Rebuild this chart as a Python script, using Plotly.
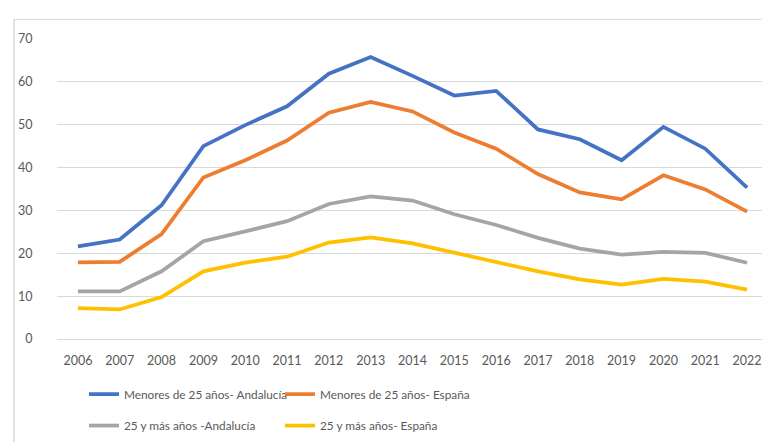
import plotly.graph_objects as go

years = [str(y) for y in range(2006, 2023)]
menores_andalucia = [21.6, 23.2, 31.2, 45.0, 49.9, 54.3, 61.9, 65.8, 61.4, 56.8, 57.9, 48.9, 46.6, 41.7, 49.5, 44.4, 35.3]
menores_espana = [17.9, 18.0, 24.5, 37.7, 41.7, 46.3, 52.8, 55.3, 53.1, 48.2, 44.4, 38.5, 34.2, 32.6, 38.2, 34.9, 29.7]
mayores_andalucia = [11.1, 11.1, 15.8, 22.8, 25.1, 27.5, 31.5, 33.3, 32.3, 29.1, 26.6, 23.6, 21.1, 19.7, 20.3, 20.1, 17.8]
mayores_espana = [7.2, 6.9, 9.8, 15.8, 17.8, 19.2, 22.5, 23.7, 22.3, 20.1, 17.8, 15.8, 13.9, 12.7, 14.0, 13.4, 11.5]

names = ["Menores de 25 años- Andalucía", "Menores de 25 años- España",
         "25 y más años -Andalucía", "25 y más años- España"]
colors = ["#4472C4", "#ED7D31", "#A5A5A5", "#FFC000"]
series = [menores_andalucia, menores_espana, mayores_andalucia, mayores_espana]
legends = ["legend", "legend", "legend2", "legend2"]

FONT = "Lato, sans-serif"
fig = go.Figure()
for n, c, s, lg in zip(names, colors, series, legends):
    fig.add_trace(go.Scatter(x=years, y=s, name=n, mode="lines",
                             line=dict(color=c, width=3.75), legend=lg))

W, H = 770, 442
L, R, T, B = 49, 10, 31, 106
pw, ph = W - L - R, H - T - B

def px(x):
    return (x - L) / pw

def py(y):
    return (H - B - y) / ph

leg_common = dict(orientation="h", xanchor="left", yanchor="middle",
                  font=dict(family=FONT, size=11.8, color="#595959"),
                  bgcolor="rgba(0,0,0,0)", entrywidth=151, entrywidthmode="pixels",
                  itemwidth=30, tracegroupgap=0)

fig.update_layout(
    width=W, height=H,
    margin=dict(l=L, r=R, t=T, b=B),
    paper_bgcolor="white", plot_bgcolor="white",
    font=dict(family=FONT, size=12.5, color="#595959"),
    xaxis=dict(type="category", range=[-0.5, len(years) - 0.5], showgrid=False,
               showline=True, linecolor="#D9D9D9", linewidth=1,
               ticks="outside", ticklen=10, tickcolor="rgba(0,0,0,0)",
               tickfont=dict(size=12.5, color="#595959")),
    yaxis=dict(range=[0, 70], dtick=10, showgrid=True, gridcolor="#D9D9D9",
               gridwidth=1, zeroline=False, showline=False,
               ticks="outside", ticklen=21, tickcolor="rgba(0,0,0,0)",
               tickfont=dict(size=12.5, color="#595959")),
    legend=dict(x=px(76), y=py(392), **leg_common),
    legend2=dict(x=px(76), y=py(424), **leg_common),
    shapes=[
        dict(type="line", xref="paper", yref="paper", x0=px(6), x1=px(770), y0=py(11), y1=py(11),
             line=dict(color="#D9D9D9", width=1)),
        dict(type="line", xref="paper", yref="paper", x0=px(6), x1=px(6), y0=py(11), y1=py(442),
             line=dict(color="#D9D9D9", width=1.5)),
    ],
)

fig.write_html("out.html")
